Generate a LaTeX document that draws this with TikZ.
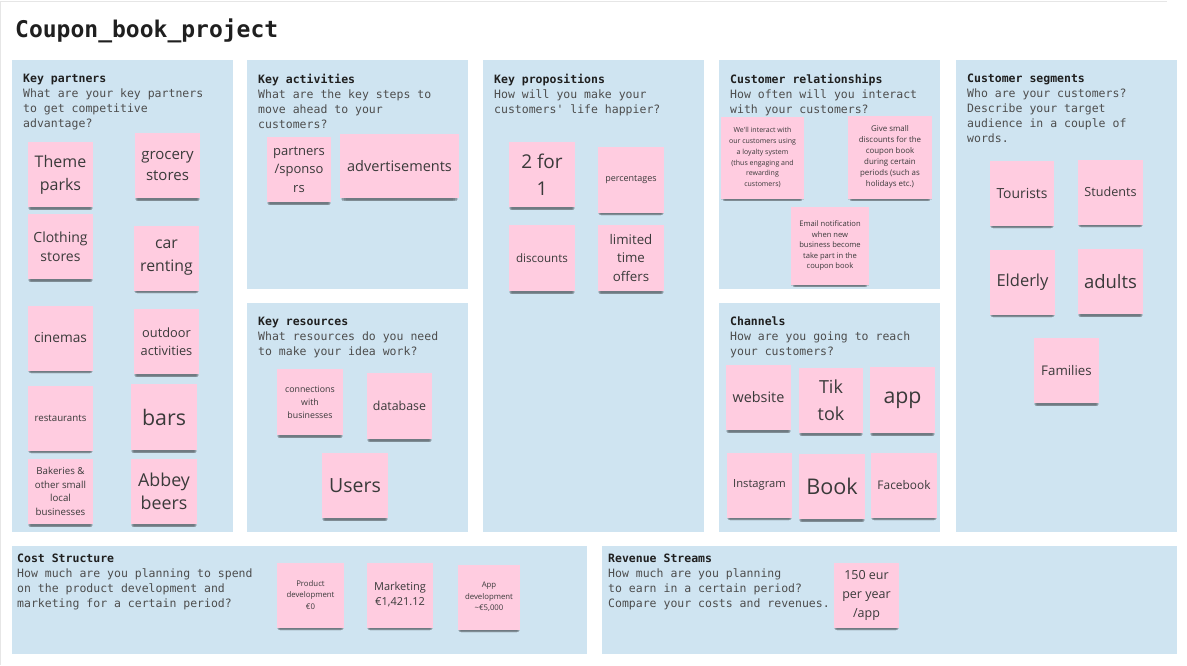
\documentclass[tikz,border=0pt]{standalone}
\usepackage{fontspec}
\setmonofont{DejaVu Sans Mono}
\newfontfamily\notefont{Open Sans}
\usetikzlibrary{shadows}

\definecolor{panelblue}{HTML}{CFE4F1}
\definecolor{notepink}{HTML}{FFCCE0}
\definecolor{notetext}{HTML}{3A3A3A}
\definecolor{headtext}{HTML}{1F1F1F}
\definecolor{bodytext}{HTML}{4D4D4D}
\definecolor{framegray}{HTML}{E6E6E6}

\tikzset{
  panel/.style={fill=panelblue, draw=none},
  panelhead/.style={anchor=north west, inner sep=0pt, align=left, text=bodytext,
    font=\ttfamily\fontsize{11.5}{15}\selectfont},
  % layered drop shadows give a soft dark band under each note
  sticky/.style={fill=notepink, draw=none, inner sep=0pt, align=center, text=notetext,
    drop shadow={shadow xshift=0pt, shadow yshift=-7pt, shadow scale=0.90, fill=black, opacity=0.08},
    drop shadow={shadow xshift=0pt, shadow yshift=-5.5pt, shadow scale=0.93, fill=black, opacity=0.14},
    drop shadow={shadow xshift=0pt, shadow yshift=-4pt, shadow scale=0.96, fill=black, opacity=0.22},
    drop shadow={shadow xshift=0pt, shadow yshift=-2pt, shadow scale=0.99, fill=black, opacity=0.12}},
  sz/.style 2 args={minimum width=#1pt, minimum height=#2pt},
  fs/.style 2 args={font=\notefont\fontsize{#1}{#2}\selectfont}
}

\newcommand{\headline}[1]{\textbf{\color{headtext}#1}}

\begin{document}
\begin{tikzpicture}[x=1pt, y=-1pt]
\useasboundingbox (0,0) rectangle (1187,665);
\fill[white] (0,0) rectangle (1187,665);
\draw[framegray, line width=1pt] (0,1) -- (1167,1);
\draw[framegray, line width=1pt] (0.5,1) -- (0.5,665);

% title
\node[anchor=base west, inner sep=0pt, text=headtext,
      font=\ttfamily\bfseries\fontsize{23}{28}\selectfont] (title) at (15,37) {Coupon\_book\_project};

% canvas panels
\fill[panel] (12,60) rectangle (233,532);
\fill[panel] (247,60) rectangle (468,289);
\fill[panel] (247,303) rectangle (468,532);
\fill[panel] (483,60) rectangle (704,532);
\fill[panel] (719,60) rectangle (940,289);
\fill[panel] (719,303) rectangle (940,532);
\fill[panel] (956,60) rectangle (1177,532);
\fill[panel] (12,546) rectangle (587,654);
\fill[panel] (602,546) rectangle (1177,654);

% panel headings
\node[panelhead] (hkp) at (23,74) {\headline{Key partners}\\What are your key partners\\to get competitive\\advantage?};
\node[panelhead] (hka) at (258,74) {\headline{Key activities}\\What are the key steps to\\move ahead to your\\customers?};
\node[panelhead] (hkr) at (258,317) {\headline{Key resources}\\What resources do you need\\to make your idea work?};
\node[panelhead] (hkpr) at (494,74) {\headline{Key propositions}\\How will you make your\\customers' life happier?};
\node[panelhead] (hcr) at (730,74) {\headline{Customer relationships}\\How often will you interact\\with your customers?};
\node[panelhead] (hch) at (730,317) {\headline{Channels}\\How are you going to reach\\your customers?};
\node[panelhead] (hcs) at (967,74) {\headline{Customer segments}\\Who are your customers?\\Describe your target\\audience in a couple of\\words.};
\node[panelhead] (hco) at (17,554) {\headline{Cost Structure}\\How much are you planning to spend\\on the product development and\\marketing for a certain period?};
\node[panelhead] (hrs) at (608,554) {\headline{Revenue Streams}\\How much are you planning\\to earn in a certain period?\\Compare your costs and revenues.};

% key partners
\node[sticky, sz={65}{65}, fs={16}{23}] (kp1) at (60.5,174.5) {Theme\\parks};
\node[sticky, sz={65}{65}, fs={15}{21}] (kp2) at (167.5,165.5) {grocery\\stores};
\node[sticky, sz={65}{65}, fs={14}{19}] (kp3) at (60.5,246.5) {Clothing\\stores};
\node[sticky, sz={65}{65}, fs={15.8}{23}] (kp4) at (166.5,258) {car\\renting};
\node[sticky, sz={65}{65}, fs={13.7}{18}] (kp5) at (60.5,338) {cinemas};
\node[sticky, sz={65}{65}, fs={12.8}{18}] (kp6) at (166.5,341.5) {outdoor\\activities};
\node[sticky, sz={65}{65}, fs={9.7}{13}] (kp7) at (60.5,418) {restaurants};
\node[sticky, sz={66}{66}, fs={21.4}{26}] (kp8) at (164,417) {bars};
\node[sticky, sz={65}{65}, fs={9.7}{13.7}] (kp9) at (60.5,491.5) {Bakeries \&\\other small\\local\\businesses};
\node[sticky, sz={66}{65}, fs={17.8}{23}] (kp10) at (164,491.5) {Abbey\\beers};

% key activities
\node[sticky, sz={64}{65}, fs={13}{18.5}] (ka1) at (299,169.5) {partners\\/sponso\\rs};
\node[sticky, sz={119}{64}, fs={14.5}{19}] (ka2) at (399.5,166) {advertisements};

% key resources
\node[sticky, sz={66}{66}, fs={8.8}{13}] (kr1) at (310,402) {connections\\with\\businesses};
\node[sticky, sz={65}{66}, fs={12.4}{16}] (kr2) at (399.5,406) {database};
\node[sticky, sz={66}{65}, fs={19.5}{24}] (kr3) at (355,485.5) {Users};

% key propositions
\node[sticky, sz={66}{65}, fs={19}{27}] (kpr1) at (542,174.5) {2 for\\1};
\node[sticky, sz={66}{66}, fs={9}{12}] (kpr2) at (631,179.5) {percentages};
\node[sticky, sz={66}{66}, fs={11.6}{15}] (kpr3) at (542,258) {discounts};
\node[sticky, sz={66}{66}, fs={13.3}{18.3}] (kpr4) at (631,258) {limited\\time\\offers};

% customer relationships
\node[sticky, sz={83}{82}, fs={7}{10.8}] (cr1) at (762.5,157.5) {We'll interact with\\our customers using\\a loyalty system\\(thus engaging and\\rewarding\\customers)};
\node[sticky, sz={84}{83}, fs={7.9}{10.9}] (cr2) at (890,157) {Give small\\discounts for the\\coupon book\\during certain\\periods (such as\\holidays etc.)};
\node[sticky, sz={78}{78}, fs={7.6}{10.5}] (cr3) at (830,245.5) {Email notification\\when new\\business become\\take part in the\\coupon book};

% channels
\node[sticky, sz={65}{65}, fs={14.4}{18}] (ch1) at (758.5,397.5) {website};
\node[sticky, sz={64}{65}, fs={18}{26.7}] (ch2) at (831,400.5) {Tik\\tok};
\node[sticky, sz={65}{66}, fs={21.3}{26}] (ch3) at (902.5,400) {app};
\node[sticky, sz={65}{65}, fs={11.2}{15}] (ch4) at (759.5,485) {Instagram};
\node[sticky, sz={66}{65}, fs={21.6}{26}] (ch5) at (832,486.5) {Book};
\node[sticky, sz={66}{65}, fs={11.9}{15}] (ch6) at (904,485) {Facebook};

% customer segments
\node[sticky, sz={64}{65}, fs={13.9}{18}] (cs1) at (1022,193) {Tourists};
\node[sticky, sz={65}{65}, fs={12.6}{16}] (cs2) at (1110.5,192) {Students};
\node[sticky, sz={65}{65}, fs={16.5}{20}] (cs3) at (1022.5,282) {Elderly};
\node[sticky, sz={65}{65}, fs={18.5}{23}] (cs4) at (1110.5,281.5) {adults};
\node[sticky, sz={65}{65}, fs={13.3}{17}] (cs5) at (1066.5,370.5) {Families};

% cost structure
\node[sticky, sz={67}{65}, fs={7.8}{11.5}] (co1) at (310.5,595) {Product\\development\\€0};
\node[sticky, sz={66}{65}, fs={11}{15}] (co2) at (400,595) {Marketing\\€1,421.12};
\node[sticky, sz={62}{65}, fs={7.8}{11.5}] (co3) at (489,597) {App\\development\\\textasciitilde€5,000};

% revenue streams
\node[sticky, sz={65}{65}, fs={12.5}{19}] (rs1) at (866.5,595) {150 eur\\per year\\/app};
\end{tikzpicture}
\end{document}
